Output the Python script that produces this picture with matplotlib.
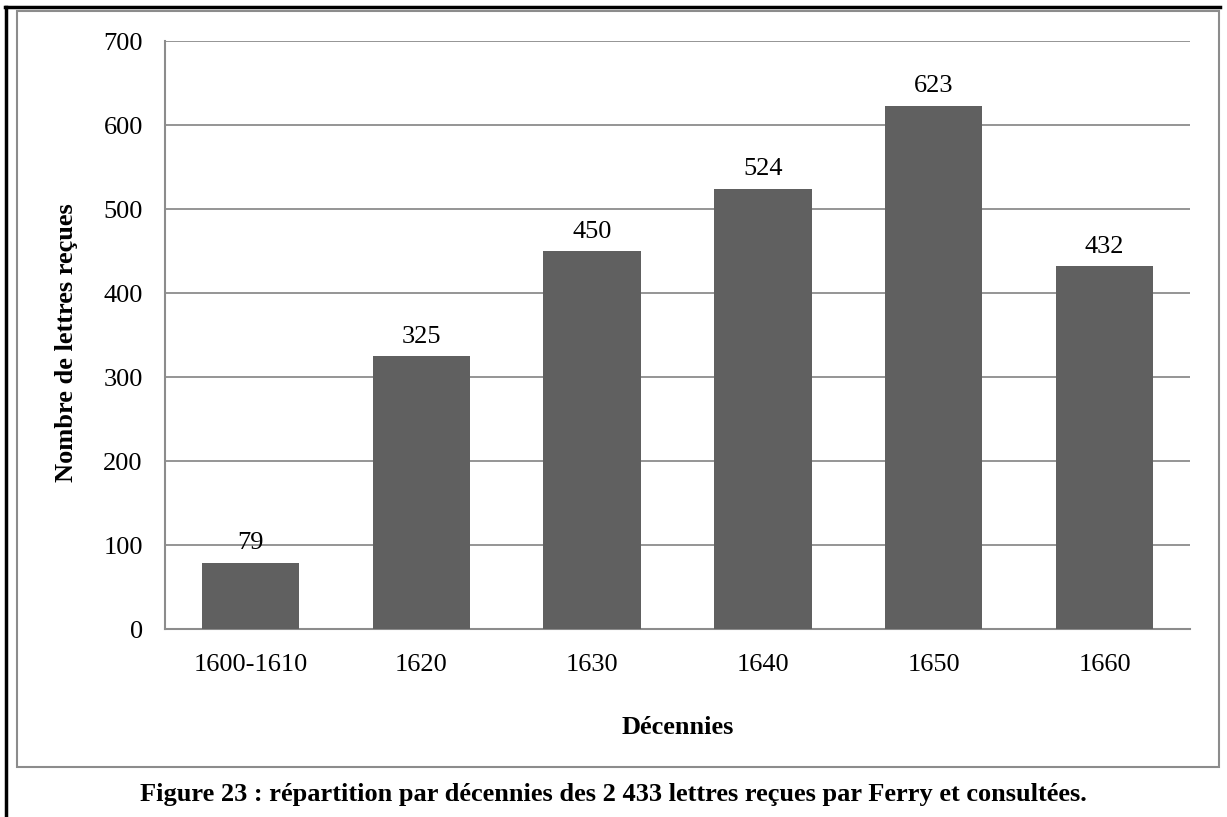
import matplotlib.pyplot as plt
from matplotlib.patches import Rectangle
from matplotlib.lines import Line2D

decades = ["1600-1610", "1620", "1630", "1640", "1650", "1660"]
letters = [79, 325, 450, 524, 623, 432]
y_ticks = [0, 100, 200, 300, 400, 500, 600, 700]

plt.rcParams['font.family'] = ['Liberation Serif', 'DejaVu Serif']
FS = 19

W, H = 1227, 817
fig = plt.figure(figsize=(W / 100, H / 100), dpi=100)

# outer frames (page border + chart frame)
fig.add_artist(Line2D([5 / W, 1220 / W], [1 - 7 / H, 1 - 7 / H], transform=fig.transFigure,
                      color='black', lw=2.5))
fig.add_artist(Line2D([6 / W, 6 / W], [1 - 7 / H, 0], transform=fig.transFigure,
                      color='black', lw=2.5))
fig.add_artist(Rectangle((17 / W, 1 - 767 / H), (1219 - 17) / W, (767 - 11) / H,
                         transform=fig.transFigure, fill=False, edgecolor='#8c8c8c', lw=1.5))

ax = fig.add_axes([165 / W, 1 - 629 / H, (1190 - 165) / W, (629 - 41) / H])
x = range(len(decades))
ax.bar(x, letters, width=0.57, color='#606060', zorder=3)
for xi, v in zip(x, letters):
    ax.text(xi, v + 16, str(v), ha='center', va='baseline', fontsize=FS)

ax.set_xlim(-0.5, len(decades) - 0.5)
ax.set_ylim(0, 700)
ax.set_yticks(y_ticks)
ax.set_xticks(list(x))
ax.set_xticklabels(decades)
ax.tick_params(axis='both', length=0, labelsize=FS)
ax.tick_params(axis='y', pad=16)
ax.tick_params(axis='x', pad=18)
ax.yaxis.grid(True, color='#8c8c8c', lw=1.3, zorder=0)
for s in ['top', 'right']:
    ax.spines[s].set_visible(False)
for s in ['left', 'bottom']:
    ax.spines[s].set_color('#8c8c8c')
    ax.spines[s].set_linewidth(1.5)

fig.text(678 / W, 1 - 727 / H, "Décennies", ha='center', va='center',
         fontsize=FS, fontweight='bold')
fig.text(67 / W, 1 - 343 / H, "Nombre de lettres reçues", ha='center', va='center',
         rotation=90, fontsize=FS, fontweight='bold')

fig.text(0.5, 1 - 795 / H, "Figure 23 : répartition par décennies des 2 433 lettres reçues par Ferry et consultées.",
         ha='center', va='center', fontsize=FS, fontweight='bold')

fig.savefig('out.png', dpi=100)
